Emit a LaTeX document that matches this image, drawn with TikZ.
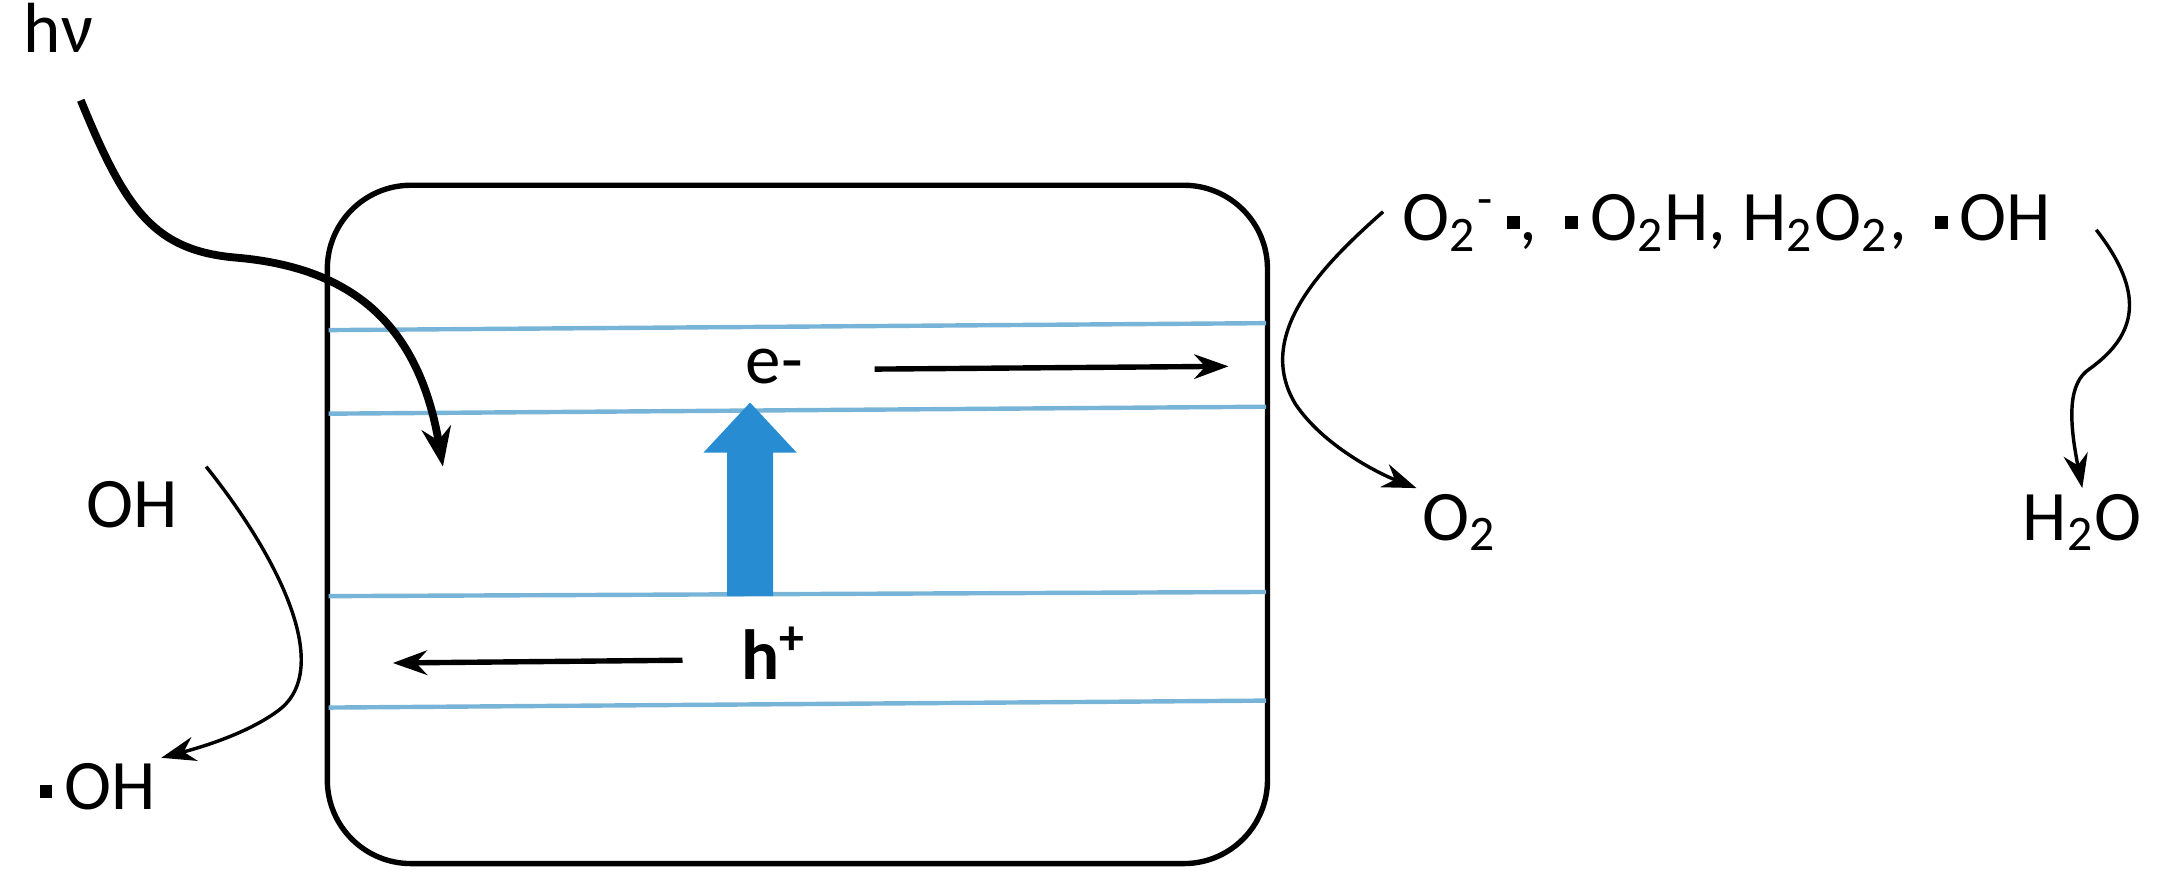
\documentclass[tikz,border=0pt]{standalone}
\usepackage{fontspec}
\setmainfont{Carlito}
\usetikzlibrary{arrows.meta}
\definecolor{band}{RGB}{120,180,215}
\definecolor{exc}{RGB}{40,140,210}
\newcommand{\rdot}{\raisebox{0.35ex}{\rule{2.6pt}{2.6pt}}}
\newcommand{\sbs}[1]{\textsubscript{#1}}
\begin{document}
\begin{tikzpicture}[x=0.01cm,y=-0.01cm,
  lbl/.style={font=\fontsize{14.5}{17}\selectfont,inner sep=1pt},
  bandline/.style={draw=band,line width=0.9pt},
  conn/.style={line width=0.9pt,-{Stealth[length=8pt,width=6pt]}},
  thin/.style={line width=0.7pt,-{Stealth[length=7pt,width=5pt]}}]
\useasboundingbox (0,0) rectangle (1568,633);
\draw[line width=1.1pt,rounded corners=0.6cm] (235,133) rectangle (910,620);
\draw[bandline] (236,237) -- (909,232);
\draw[bandline] (236,297) -- (909,292);
\draw[bandline] (236,428) -- (909,425);
\draw[bandline] (236,508) -- (909,503);
\node[lbl] (e) at (556,263) {e-};
\coordinate (ea) at (628,265);
\coordinate (eb) at (882,263);
\draw[thin,line width=1.1pt] (ea) -- (eb);
\node[lbl,font=\fontsize{14.5}{17}\selectfont\bfseries] (h) at (556,469) {h\textsuperscript{+}};
\coordinate (ha) at (490,474);
\coordinate (hb) at (282,476);
\draw[thin,line width=1.1pt] (ha) -- (hb);
\fill[exc] (522,428) -- (555,428) -- (555,325) -- (572,325) -- (538.5,289) -- (505,325) -- (522,325) -- cycle;
\node[lbl] (hv) at (42,20) {hν};
\coordinate (hvend) at (318,335);
\draw[conn,line width=1.6pt] (58,72) .. controls (90,150) and (110,180) .. (170,185) .. controls (250,192) and (300,230) .. (hvend);
\node[lbl] (oh) at (95,362) {OH};
\node[lbl] (oh2) at (70,565) {\rdot\,OH};
\draw[thin] (148,335) .. controls (200,400) and (240,480) .. (200,510) .. controls (180,525) and (150,535) .. (oh2.north east);
\node[lbl,anchor=west] (rad) at (1003,160) {O\sbs{2}\textsuperscript{-}\,\rdot, \,\rdot\,O\sbs{2}H, H\sbs{2}O\sbs{2}, \,\rdot\,OH};
\node[lbl] (o2) at (1048,375) {O\sbs{2}};
\node[lbl] (h2o) at (1495,375) {H\sbs{2}O};
\draw[thin] (993,152) .. controls (950,190) and (900,240) .. (930,290) .. controls (950,320) and (990,340) .. (o2.north west);
\draw[thin] (1505,165) .. controls (1540,210) and (1535,240) .. (1500,265) .. controls (1485,275) and (1485,300) .. (h2o.north);
\end{tikzpicture}
\end{document}
